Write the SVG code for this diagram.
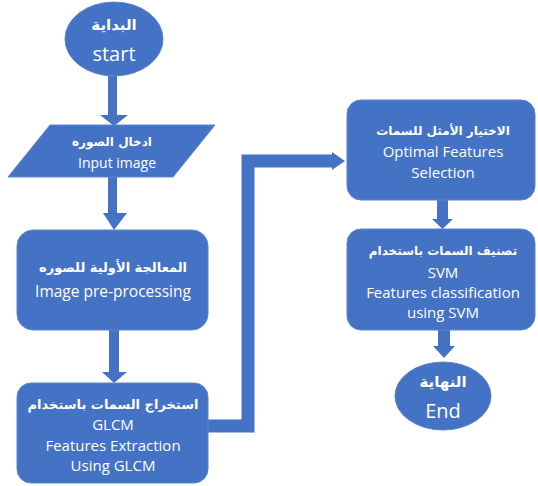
<svg xmlns="http://www.w3.org/2000/svg" width="538" height="486" viewBox="0 0 538 486">
<style>
.shape{fill:#4472C4;stroke:#5B85CF;stroke-width:1}
.t{fill:#fff;font-family:"Open Sans","DejaVu Sans",sans-serif;text-anchor:middle}
.ar{fill:#fff;font-family:"DejaVu Sans",sans-serif;text-anchor:middle;font-weight:bold}
.line{fill:none;stroke:#4472C4}
.head{fill:#4472C4}
</style>
<rect width="538" height="486" fill="#fff"/>
<g id="connectors">
<rect class="head" x="108" y="76" width="9" height="40"/>
<polygon class="head" points="100,115 128,115 114,126"/>
<rect class="head" x="108" y="177" width="9" height="38"/>
<polygon class="head" points="103,213 127,213 114,230"/>
<rect class="head" x="109" y="330" width="10" height="44"/>
<polygon class="head" points="102,372 127,372 114,383"/>
<path class="line" stroke-width="13" d="M208,426 H248 V161 H334"/>
<polygon class="head" points="332,152 345,161 332,170"/>
<rect class="head" x="437" y="200" width="11" height="21"/>
<polygon class="head" points="432,219 453,219 442.5,229"/>
<rect class="head" x="438" y="330" width="12" height="18"/>
<polygon class="head" points="433,346 455,346 444,358"/>
</g>
<g id="start">
<ellipse class="shape" cx="114" cy="39" rx="49" ry="37"/>
<text class="ar" x="114" y="30" font-size="15" direction="rtl">البداية</text>
<text class="t" x="114" y="61" font-size="20">start</text>
</g>
<g id="input">
<polygon class="shape" points="50,125 215,125 173,177 8,177"/>
<text class="ar" x="112" y="146" font-size="12" direction="rtl">ادخال الصوره</text>
<text class="t" x="117" y="168" font-size="14">Input image</text>
</g>
<g id="preprocess">
<rect class="shape" x="17" y="230" width="191" height="100" rx="16"/>
<text class="ar" x="113" y="272" font-size="13" direction="rtl">المعالجة الأولية للصوره</text>
<text class="t" x="113" y="297" font-size="15.5">Image pre-processing</text>
</g>
<g id="extract">
<rect class="shape" x="17" y="383" width="191" height="100" rx="14"/>
<text class="ar" x="113" y="409" font-size="13" direction="rtl">استخراج السمات باستخدام</text>
<text class="t" x="113" y="430" font-size="15">GLCM</text>
<text class="t" x="113" y="451" font-size="15">Features Extraction</text>
<text class="t" x="113" y="471" font-size="15">Using GLCM</text>
</g>
<g id="selection">
<rect class="shape" x="347" y="100" width="188" height="100" rx="14"/>
<text class="ar" x="443" y="135" font-size="12" direction="rtl">الاختيار الأمثل للسمات</text>
<text class="t" x="443" y="157" font-size="15">Optimal Features</text>
<text class="t" x="443" y="178" font-size="15">Selection</text>
</g>
<g id="classify">
<rect class="shape" x="347" y="229" width="188" height="101" rx="14"/>
<text class="ar" x="443" y="255" font-size="12" direction="rtl">تصنيف السمات باستخدام</text>
<text class="t" x="443" y="278" font-size="15">SVM</text>
<text class="t" x="443" y="298" font-size="15">Features classification</text>
<text class="t" x="443" y="318" font-size="15">using SVM</text>
</g>
<g id="end">
<ellipse class="shape" cx="443" cy="396" rx="48" ry="34"/>
<text class="ar" x="443" y="387" font-size="15" direction="rtl">النهاية</text>
<text class="t" x="443" y="418" font-size="20">End</text>
</g>
</svg>
